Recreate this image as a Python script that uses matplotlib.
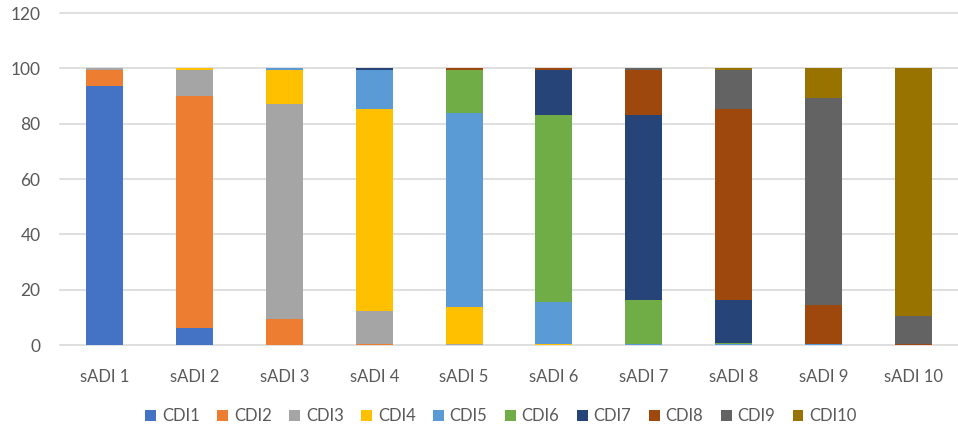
import matplotlib
matplotlib.use("Agg")
import matplotlib.pyplot as plt
import numpy as np

categories = ["sADI 1", "sADI 2", "sADI 3", "sADI 4", "sADI 5",
              "sADI 6", "sADI 7", "sADI 8", "sADI 9", "sADI 10"]
series_names = ["CDI1", "CDI2", "CDI3", "CDI4", "CDI5",
                "CDI6", "CDI7", "CDI8", "CDI9", "CDI10"]

cdi1 = [93.5, 6.2, 0.0, 0.0, 0.0, 0.0, 0.0, 0.0, 0.0, 0.0]
cdi2 = [5.8, 83.8, 9.4, 0.3, 0.0, 0.0, 0.0, 0.0, 0.0, 0.0]
cdi3 = [0.7, 9.3, 77.6, 12.0, 0.3, 0.0, 0.0, 0.0, 0.0, 0.0]
cdi4 = [0.0, 0.7, 12.3, 72.9, 13.4, 0.5, 0.0, 0.0, 0.0, 0.0]
cdi5 = [0.0, 0.0, 0.7, 14.1, 70.1, 15.0, 0.3, 0.3, 0.3, 0.0]
cdi6 = [0.0, 0.0, 0.0, 0.0, 15.5, 67.5, 15.9, 0.4, 0.0, 0.0]
cdi7 = [0.0, 0.0, 0.0, 0.7, 0.0, 16.3, 66.8, 15.5, 0.2, 0.0]
cdi8 = [0.0, 0.0, 0.0, 0.0, 0.7, 0.7, 16.3, 69.0, 13.9, 0.3]
cdi9 = [0.0, 0.0, 0.0, 0.0, 0.0, 0.0, 0.7, 14.1, 74.8, 10.3]
cdi10 = [0.0, 0.0, 0.0, 0.0, 0.0, 0.0, 0.0, 0.7, 10.8, 89.4]

series = [cdi1, cdi2, cdi3, cdi4, cdi5, cdi6, cdi7, cdi8, cdi9, cdi10]
colors = ["#4472C4", "#ED7D31", "#A5A5A5", "#FFC000", "#5B9BD5",
          "#70AD47", "#264478", "#9E480E", "#636363", "#997300"]
yticks = [0, 20, 40, 60, 80, 100, 120]

plt.rcParams['font.family'] = ['Lato', 'DejaVu Sans']

fig = plt.figure(figsize=(9.58, 4.29), dpi=100)
ax = fig.add_axes([60/958, 1-345/429, 898/958, (345-13)/429])

x = np.arange(len(categories))
bottom = np.zeros(len(categories))
for name, vals, c in zip(series_names, series, colors):
    v = np.array(vals)
    ax.bar(x, v, width=0.41, bottom=bottom, color=c, label=name, zorder=3)
    bottom += v

ax.set_xlim(-0.5, len(categories) - 0.5)
ax.set_ylim(0, 120)
ax.set_yticks(yticks)
ax.set_yticklabels([str(t) for t in yticks])
for t in yticks:
    ax.axhline(t, color="#D9D9D9", lw=1.2, zorder=1, clip_on=False)
for s in ax.spines.values():
    s.set_visible(False)
ax.set_xticks(x)
ax.set_xticklabels(categories)
ax.tick_params(axis='y', length=0, pad=14, labelsize=12.5, labelcolor="#595959")
ax.tick_params(axis='x', length=0, pad=17, labelsize=12, labelcolor="#595959")

leg = fig.legend(loc='center', bbox_to_anchor=(0.523, 1-416/429), ncol=10,
                 frameon=False, fontsize=12, handlelength=0.65, handleheight=0.65,
                 handletextpad=0.35, columnspacing=1.05, labelcolor="#595959")

fig.savefig("out.png", dpi=100)
